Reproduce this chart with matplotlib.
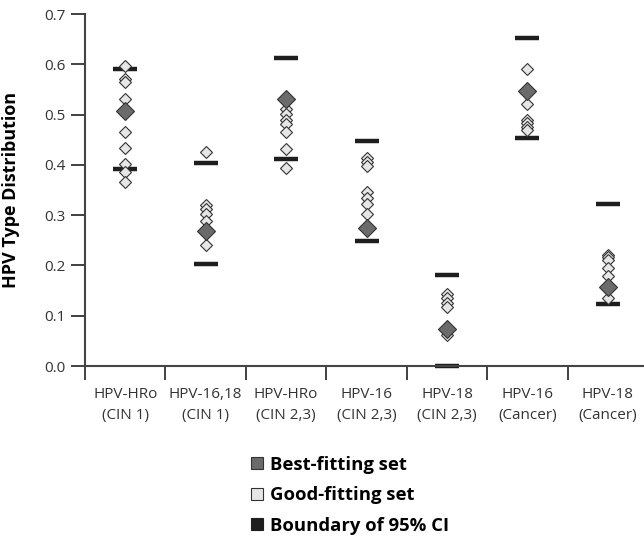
import matplotlib
matplotlib.use('Agg')
import matplotlib.pyplot as plt
from matplotlib.lines import Line2D
import numpy as np

plt.rcParams['font.family'] = ['Open Sans', 'DejaVu Sans']

# categories (two-line tick labels)
categories = ['HPV-HRo\n(CIN 1)', 'HPV-16,18\n(CIN 1)', 'HPV-HRo\n(CIN 2,3)',
              'HPV-16\n(CIN 2,3)', 'HPV-18\n(CIN 2,3)', 'HPV-16\n(Cancer)',
              'HPV-18\n(Cancer)']

# best-fitting parameter set
best_fit = [0.507, 0.269, 0.531, 0.274, 0.073, 0.547, 0.158]

# good-fitting parameter sets, one list per category
good_fit = [
    [0.597, 0.571, 0.564, 0.530, 0.466, 0.433, 0.401, 0.386, 0.365],
    [0.425, 0.320, 0.312, 0.302, 0.289, 0.240],
    [0.512, 0.502, 0.490, 0.481, 0.465, 0.431, 0.394],
    [0.413, 0.406, 0.398, 0.347, 0.335, 0.323, 0.302],
    [0.143, 0.135, 0.126, 0.117, 0.062],
    [0.590, 0.522, 0.489, 0.483, 0.476, 0.469],
    [0.221, 0.216, 0.211, 0.194, 0.179, 0.135],
]

# 95% CI boundaries
ci_low = [0.391, 0.203, 0.411, 0.249, 0.0, 0.453, 0.123]
ci_high = [0.590, 0.404, 0.612, 0.447, 0.181, 0.653, 0.323]

dark = '#1e1e1e'
best_col = '#6b6b6b'
good_col = '#e6e6e6'

fig = plt.figure(figsize=(6.44, 5.38), dpi=100)
ax = fig.add_axes([85 / 644, 1 - 366 / 538, 559 / 644, 352 / 538])

x = np.arange(len(categories))

# CI boundaries
ax.plot(x, ci_low, ls='none', marker='_', ms=17, mew=3.2, color=dark, zorder=2, clip_on=False)
ax.plot(x, ci_high, ls='none', marker='_', ms=17, mew=3.2, color=dark, zorder=2, clip_on=False)

# good-fitting sets
for i, vals in enumerate(good_fit):
    ax.plot([x[i]] * len(vals), vals, ls='none', marker='D', ms=6.2,
            mfc=good_col, mec='#333333', mew=0.8, zorder=3)

# best fitting
ax.plot(x, best_fit, ls='none', marker='D', ms=8.8, mfc=best_col,
        mec='#333333', mew=0.8, zorder=4)

ax.set_xlim(-0.5, 6.45)
ax.set_ylim(0, 0.7)
ax.set_yticks(np.arange(0, 0.71, 0.1))
ax.set_yticklabels(['%.1f' % v for v in np.arange(0, 0.71, 0.1)])

# boundaries between categories carry the tick marks, centres carry the labels
ax.set_xticks(np.arange(-0.5, 6.5, 1.0))
ax.set_xticklabels([])
ax.set_xticks(x, minor=True)
ax.set_xticklabels(categories, minor=True, linespacing=1.55)
ax.tick_params(axis='x', which='minor', length=0, pad=15, labelsize=11, colors='#333333')
ax.tick_params(axis='x', which='major', length=10, width=1.3, direction='out', color='#333333')
ax.tick_params(axis='y', length=10, width=1.3, direction='out', color='#333333',
               labelsize=11, labelcolor='#333333', pad=4)

for s in ['top', 'right']:
    ax.spines[s].set_visible(False)
for s in ['left', 'bottom']:
    ax.spines[s].set_linewidth(1.5)
    ax.spines[s].set_color('#444444')

ax.set_ylabel('HPV Type Distribution', fontsize=13, fontweight='bold')
ax.yaxis.set_label_coords(-0.116, 0.5)

handles = [
    Line2D([], [], ls='none', marker='s', ms=8, mfc=best_col, mec='#333333', mew=0.8),
    Line2D([], [], ls='none', marker='s', ms=8, mfc=good_col, mec='#333333', mew=0.8),
    Line2D([], [], ls='none', marker='s', ms=8, mfc=dark, mec=dark, mew=0.8),
]
labels = ['Best-fitting set', 'Good-fitting set', 'Boundary of 95% CI']
fig.legend(handles, labels, loc='upper left', bbox_to_anchor=(235 / 644, 1 - 439 / 538),
           frameon=False, handlelength=0.6, handletextpad=0.4, labelspacing=0.68,
           prop={'weight': 'bold', 'size': 13.3})

fig.savefig('out.png', dpi=100)
